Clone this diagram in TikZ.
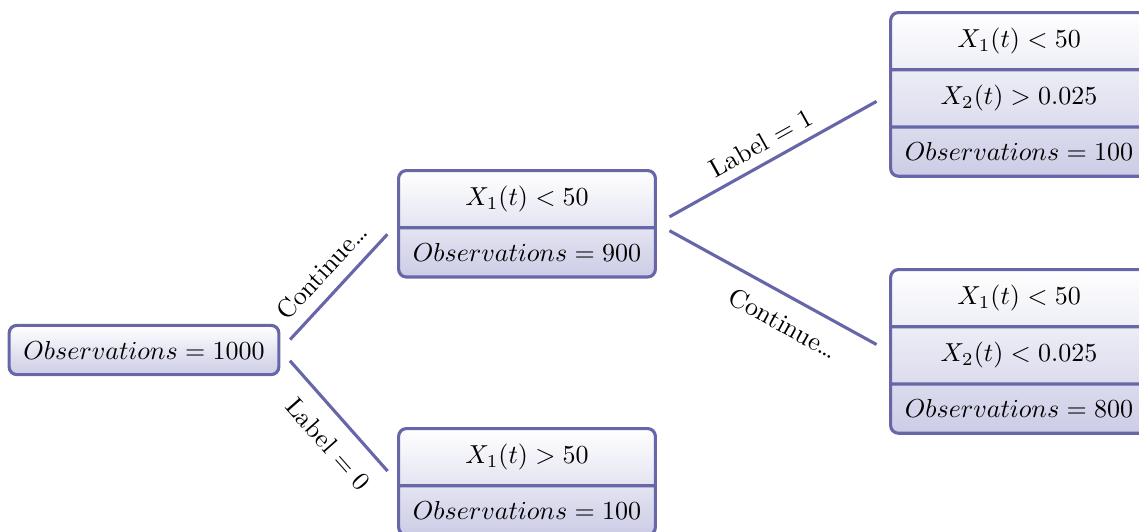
\documentclass[tikz,border=0pt]{standalone}
\usetikzlibrary{shapes.multipart}
\definecolor{bord}{RGB}{102,102,168}
\definecolor{lav}{RGB}{204,204,230}
\tikzset{
  boxbase/.style={draw=bord, line width=1.2pt, rounded corners=3pt,
    top color=white, bottom color=lav, inner xsep=5.5pt, inner ysep=6pt},
  splitbox/.style={boxbase, inner ysep=5.4pt, rectangle split, rectangle split parts=#1},
  edge/.style={draw=bord, line width=1.2pt, shorten <=5.5pt, shorten >=5.5pt},
  lbl/.style={sloped, inner sep=3pt}
}
\begin{document}
\begin{tikzpicture}[x=0.3846pt, y=-0.3846pt]
  \useasboundingbox (0,0) rectangle (1139,531);
  \clip (0,0) rectangle (1139,531);
  \node[boxbase] (root) at (144,350) {$Observations = 1000$};
  \node[splitbox=2, anchor=north] (mt) at (527,169)
    {$X_1(t) < 50$\nodepart{two}$Observations = 900$};
  \node[splitbox=2, anchor=north] (mb) at (527,427)
    {$X_1(t) > 50$\nodepart{two}$Observations = 100$};
  \node[splitbox=3, anchor=north] (rt) at (1019,11)
    {$X_1(t) < 50$\nodepart{two}$X_2(t) > 0.025$\nodepart{three}$Observations = 100$};
  \node[splitbox=3, anchor=north] (rb) at (1019,268)
    {$X_1(t) < 50$\nodepart{two}$X_2(t) < 0.025$\nodepart{three}$Observations = 800$};
  \draw[edge] (root.east) -- node[lbl, above=1.5pt, pos=0.5] {Continue\ldots} (mt.west);
  \draw[edge] (root.east) -- node[lbl, below=3pt, pos=0.58] {Label $=$ 0} (mb.west);
  \draw[edge] (mt.east) -- node[lbl, above=0.5pt, pos=0.49] {Label $=$ 1} (rt.west);
  \draw[edge] (mt.east) -- node[lbl, below=3pt, pos=0.6] {Continue\ldots} (rb.west);
\end{tikzpicture}
\end{document}
